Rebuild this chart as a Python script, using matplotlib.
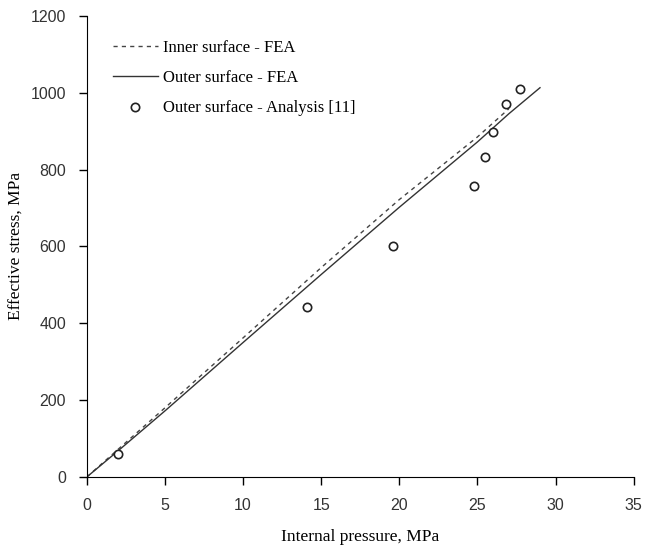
import matplotlib
matplotlib.use('Agg')
import matplotlib.pyplot as plt

# FEA curves
inner_p = [0, 2, 5, 10, 15, 20, 25, 27]
inner_s = [0, 72, 180, 362, 545, 722, 885, 958]
outer_p = [0, 2, 5, 10, 15, 20, 25, 27, 29]
outer_s = [0, 68, 172, 350, 527, 702, 872, 945, 1013]

# analysis points
ana_p = [2.0, 14.1, 19.6, 24.8, 25.5, 26.0, 26.8, 27.7]
ana_s = [60, 443, 602, 758, 833, 898, 971, 1010]

xticks = [0, 5, 10, 15, 20, 25, 30, 35]
yticks = [0, 200, 400, 600, 800, 1000, 1200]

fig = plt.figure(figsize=(6.48, 5.47), dpi=100)
ax = fig.add_axes([0.134, 0.128, 0.844, 0.843])

ax.plot(inner_p, inner_s, color='#444444', lw=1.0, ls=(0, (3, 3)), label='Inner surface - FEA')
ax.plot(outer_p, outer_s, color='#333333', lw=1.0, label='Outer surface - FEA')
ax.plot(ana_p, ana_s, ls='none', marker='o', ms=6, mfc='white', mec='#222222', mew=1.2,
        label='Outer surface - Analysis [11]')

ax.set_xlim(0, 35)
ax.set_ylim(0, 1200)
ax.set_xticks(xticks)
ax.set_yticks(yticks)
ax.spines['top'].set_visible(False)
ax.spines['right'].set_visible(False)
ax.tick_params(direction='out', length=6, width=1, labelsize=11.5, labelcolor='#333333', pad=9)
for lbl in ax.get_xticklabels() + ax.get_yticklabels():
    lbl.set_family('Liberation Sans')

ax.set_xlabel('Internal pressure, MPa', family='Liberation Serif', fontsize=12.5, labelpad=12)
ax.set_ylabel('Effective stress, MPa', family='Liberation Serif', fontsize=12.5)
ax.yaxis.set_label_coords(-0.113, 0.5)

leg = ax.legend(loc='upper left', bbox_to_anchor=(0.02, 0.98), frameon=False,
                prop={'family': 'Liberation Serif', 'size': 12}, handlelength=2.7,
                labelspacing=0.85, handletextpad=0.3)

fig.savefig('out.png', dpi=100)
